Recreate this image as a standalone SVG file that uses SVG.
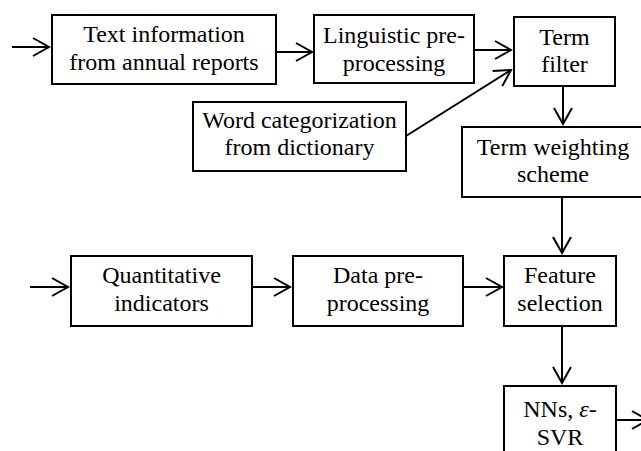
<svg xmlns="http://www.w3.org/2000/svg" width="641" height="451" viewBox="0 0 641 451">
<defs>
<style>
rect.box{fill:#fff;stroke:#000;stroke-width:2}
.conn line{stroke:#000;stroke-width:2;fill:none}
</style>
<marker id="arr" markerUnits="userSpaceOnUse" markerWidth="24" markerHeight="24" refX="17" refY="10" orient="auto" overflow="visible">
<path d="M1,1 L17,10 L1,19" fill="none" stroke="#000" stroke-width="2"/>
</marker>
</defs>
<rect width="641" height="451" fill="#fff"/>
<g class="conn" id="connectors">
<line x1="12" y1="47" x2="49" y2="47" marker-end="url(#arr)"/>
<line x1="276" y1="52" x2="312" y2="52" marker-end="url(#arr)"/>
<line x1="474" y1="50" x2="511" y2="50" marker-end="url(#arr)"/>
<line x1="406" y1="136" x2="511" y2="70" marker-end="url(#arr)"/>
<line x1="563" y1="86" x2="563" y2="124" marker-end="url(#arr)"/>
<line x1="562" y1="197" x2="562" y2="253" marker-end="url(#arr)"/>
<line x1="30" y1="287" x2="68" y2="287" marker-end="url(#arr)"/>
<line x1="252" y1="287" x2="290" y2="287" marker-end="url(#arr)"/>
<line x1="463" y1="287" x2="502" y2="287" marker-end="url(#arr)"/>
<line x1="562" y1="326" x2="562" y2="383" marker-end="url(#arr)"/>
<line x1="616" y1="420" x2="648" y2="420" marker-end="url(#arr)"/>
</g>
<g id="n-text">
<rect class="box" x="52" y="15" width="224" height="69"/>
<text x="164" y="42" font-family="Liberation Serif" font-size="24" text-anchor="middle">Text information</text>
<text x="164" y="70" font-family="Liberation Serif" font-size="24" text-anchor="middle">from annual reports</text>
</g>
<g id="n-ling">
<rect class="box" x="314" y="15" width="160" height="68"/>
<text x="394" y="43" font-family="Liberation Serif" font-size="24" text-anchor="middle">Linguistic pre-</text>
<text x="394" y="71" font-family="Liberation Serif" font-size="24" text-anchor="middle">processing</text>
</g>
<g id="n-filter">
<rect class="box" x="514" y="17" width="101" height="69"/>
<text x="564.5" y="45" font-family="Liberation Serif" font-size="24" text-anchor="middle">Term</text>
<text x="564.5" y="72" font-family="Liberation Serif" font-size="24" text-anchor="middle">filter</text>
</g>
<g id="n-word">
<rect class="box" x="193" y="102" width="213" height="69"/>
<text x="299.5" y="128" font-family="Liberation Serif" font-size="24" text-anchor="middle">Word categorization</text>
<text x="299.5" y="155" font-family="Liberation Serif" font-size="24" text-anchor="middle">from dictionary</text>
</g>
<g id="n-weight">
<rect class="box" x="462" y="127" width="182" height="70"/>
<text x="553" y="155" font-family="Liberation Serif" font-size="24" text-anchor="middle">Term weighting</text>
<text x="553" y="182" font-family="Liberation Serif" font-size="24" text-anchor="middle">scheme</text>
</g>
<g id="n-quant">
<rect class="box" x="71" y="256" width="181" height="70"/>
<text x="161.5" y="283" font-family="Liberation Serif" font-size="24" text-anchor="middle">Quantitative</text>
<text x="161.5" y="311" font-family="Liberation Serif" font-size="24" text-anchor="middle">indicators</text>
</g>
<g id="n-data">
<rect class="box" x="293" y="256" width="170" height="70"/>
<text x="378" y="283" font-family="Liberation Serif" font-size="24" text-anchor="middle">Data pre-</text>
<text x="378" y="311" font-family="Liberation Serif" font-size="24" text-anchor="middle">processing</text>
</g>
<g id="n-feature">
<rect class="box" x="504" y="256" width="112" height="70"/>
<text x="560" y="283" font-family="Liberation Serif" font-size="24" text-anchor="middle">Feature</text>
<text x="560" y="311" font-family="Liberation Serif" font-size="24" text-anchor="middle">selection</text>
</g>
<g id="n-nns">
<rect class="box" x="504" y="386" width="112" height="72"/>
<text x="560" y="417" font-family="Liberation Serif" font-size="24" text-anchor="middle">NNs, <tspan font-style="italic">&#949;</tspan>-</text>
<text x="560" y="445" font-family="Liberation Serif" font-size="24" text-anchor="middle">SVR</text>
</g>
</svg>
